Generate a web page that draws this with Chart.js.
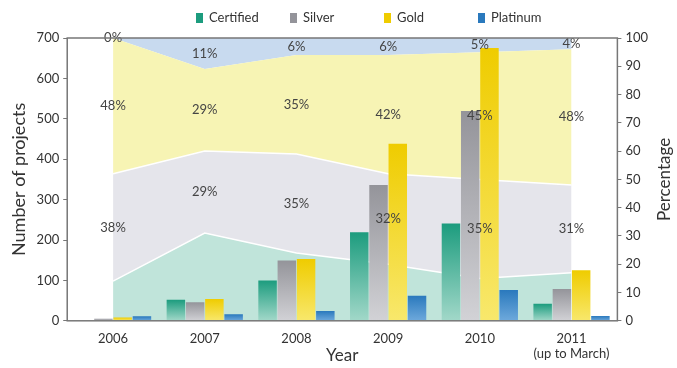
<!DOCTYPE html>
<html>
<head>
<meta charset="utf-8">
<script src="https://cdn.jsdelivr.net/npm/chart.js@4.4.0/dist/chart.umd.min.js"></script>
<style>
  html, body { margin: 0; padding: 0; background: #fff; }
  #wrap { width: 677px; height: 368px; }
</style>
</head>
<body>
<div id="wrap"><canvas id="chart" width="677" height="368"></canvas></div>
<script>
const years = ['2006', '2007', '2008', '2009', '2010', ['2011', '(up to March)']];

// number of projects per rating (left axis)
const certifiedCount = [0, 52, 100, 219, 241, 42];
const silverCount = [5, 46, 149, 336, 519, 79];
const goldCount = [8, 54, 153, 438, 675, 125];
const platinumCount = [11, 16, 24, 62, 76, 12];

// share of each rating per year, stacked to 100 (right axis)
const certifiedPct = [14, 31, 24, 20, 15, 17];
const silverPct = [38, 29, 35, 32, 35, 31];
const goldPct = [48, 29, 35, 42, 45, 48];
const platinumPct = [0, 11, 6, 6, 5, 4];

const FONT = 'Lato, "Open Sans", sans-serif';
const INK = '#333';

// vertical gradient per bar, dark at the top and paler toward the axis
function barFill(top, bottom) {
    return (ctx) => {
        const chart = ctx.chart;
        const y = chart.scales.y;
        if (!chart.chartArea || !y || ctx.raw == null) return top;
        const y0 = y.getPixelForValue(ctx.raw);
        const y1 = y.getPixelForValue(0);
        if (y1 - y0 < 2) return top;
        const g = chart.ctx.createLinearGradient(0, y0, 0, y1);
        g.addColorStop(0, top);
        g.addColorStop(1, bottom);
        return g;
    };
}

function bar(label, data, top, bottom) {
    return {
        type: 'bar',
        label,
        data,
        yAxisID: 'y',
        order: 1,
        legendColor: top,
        backgroundColor: barFill(top, bottom),
        borderWidth: 0,
        categoryPercentage: 0.84,
        barPercentage: 0.96,
    };
}

function band(label, data, fill, color, edge, showLabel) {
    return {
        type: 'line',
        label,
        data,
        yAxisID: 'y1',
        order: 2,
        fill,
        backgroundColor: color,
        borderColor: edge,
        borderWidth: 1.5,
        pointRadius: 0,
        tension: 0,
        isBand: true,
        showPct: showLabel,
    };
}

// percentage written in the middle of each band
const bandLabels = {
    id: 'bandLabels',
    afterDatasetsDraw(chart) {
        const { ctx, scales } = chart;
        const x = scales.x;
        const y1 = scales.y1;
        ctx.save();
        ctx.font = '13px ' + FONT;
        ctx.fillStyle = '#444';
        ctx.textAlign = 'center';
        ctx.textBaseline = 'middle';
        years.forEach((_, i) => {
            let base = 0;
            chart.data.datasets.forEach((ds) => {
                if (!ds.isBand) return;
                const v = ds.data[i];
                if (ds.showPct) {
                    const yy = y1.getPixelForValue(base + v / 2);
                    ctx.fillText(v + '%', x.getPixelForValue(i), yy);
                }
                base += v;
            });
        });
        ctx.restore();
    },
};

// box round the plot, plus the x title and the right-hand title
const frame = {
    id: 'frame',
    afterDraw(chart) {
        const { ctx, chartArea: a } = chart;
        ctx.save();
        ctx.strokeStyle = '#777';
        ctx.lineWidth = 1.5;
        ctx.strokeRect(a.left, a.top, a.right - a.left, a.bottom - a.top);
        ctx.font = '17px ' + FONT;
        ctx.fillStyle = INK;
        ctx.textAlign = 'center';
        ctx.textBaseline = 'middle';
        ctx.fillText('Year', (a.left + a.right) / 2, 356);
        ctx.translate(665, (a.top + a.bottom) / 2);
        ctx.rotate(-Math.PI / 2);
        ctx.fillText('Percentage', 0, 0);
        ctx.restore();
    },
};

// legend row for the bar series only
const barLegend = {
    id: 'barLegend',
    afterDraw(chart) {
        const { ctx } = chart;
        const bars = chart.data.datasets.filter((d) => !d.isBand);
        ctx.save();
        ctx.font = '13px ' + FONT;
        ctx.textBaseline = 'middle';
        bars.forEach((ds, i) => {
            const bx = 196 + i * 94;
            ctx.fillStyle = ds.legendColor;
            ctx.fillRect(bx, 13, 7, 10);
            ctx.fillStyle = INK;
            ctx.fillText(ds.label, bx + 13, 18);
        });
        ctx.restore();
    },
};

new Chart(document.getElementById('chart'), {
    data: {
        labels: years,
        datasets: [
            band('Certified share', certifiedPct, 'origin', '#c0e4da', '#ffffff', false),
            band('Silver share', silverPct, '-1', '#e5e5eb', '#ffffff', true),
            band('Gold share', goldPct, '-1', '#f7f4b4', 'rgba(0,0,0,0)', true),
            band('Platinum share', platinumPct, '-1', '#c8daef', 'rgba(0,0,0,0)', true),
            bar('Certified', certifiedCount, '#1c9c7e', '#a2d8c9'),
            bar('Silver', silverCount, '#94949a', '#d2d2d6'),
            bar('Gold', goldCount, '#efcc00', '#f8e86c'),
            bar('Platinum', platinumCount, '#2a79bd', '#6ea9dc'),
        ],
    },
    options: {
        responsive: false,
        animation: false,
        devicePixelRatio: 1,
        layout: { padding: { top: 38, right: 25, left: 4, bottom: -4 } },
        plugins: {
            legend: { display: false },
            tooltip: { enabled: false },
        },
        scales: {
            x: {
                offset: true,
                grid: { display: false, drawTicks: false, tickLength: 0 },
                border: { display: false },
                ticks: {
                    color: INK,
                    font: { family: FONT, size: 13, lineHeight: 1.2 },
                    padding: 10,
                    maxRotation: 0,
                },
            },
            y: {
                position: 'left',
                min: 0,
                max: 700,
                ticks: {
                    stepSize: 100,
                    color: INK,
                    font: { family: FONT, size: 13 },
                    padding: 4,
                },
                grid: { drawOnChartArea: false, tickLength: 4, color: '#777' },
                border: { display: false },
                title: {
                    display: true,
                    text: 'Number of projects',
                    color: INK,
                    font: { family: FONT, size: 18 },
                    padding: { bottom: 3 },
                },
            },
            y1: {
                position: 'right',
                stacked: true,
                min: 0,
                max: 100,
                ticks: {
                    stepSize: 10,
                    color: INK,
                    font: { family: FONT, size: 13 },
                    padding: 4,
                },
                grid: { drawOnChartArea: false, tickLength: 4, color: '#777' },
                border: { display: false },
            },
        },
    },
    plugins: [bandLabels, frame, barLegend],
});
</script>
</body>
</html>
